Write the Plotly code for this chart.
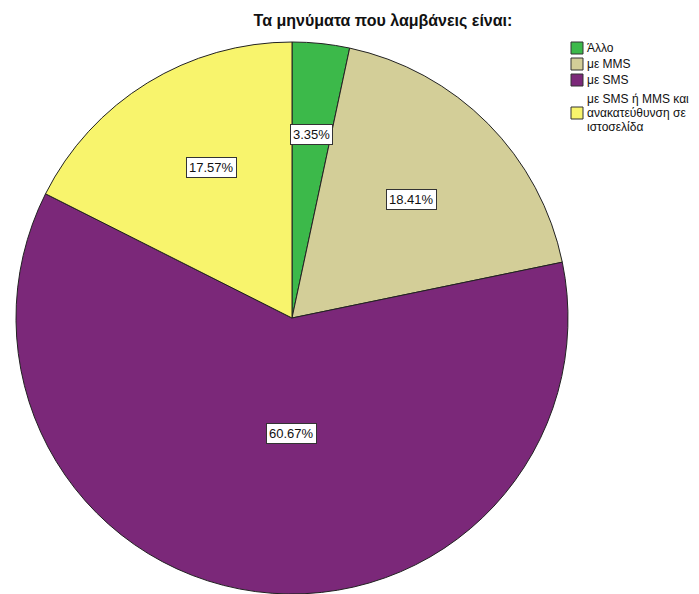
import math
import plotly.graph_objects as go

# Categories and their shares (%)
categories = ["Άλλο", "με MMS", "με SMS", "με SMS ή MMS και<br>ανακατεύθυνση σε<br>ιστοσελίδα"]
shares = [3.35, 18.41, 60.67, 17.57]
colors = ["#3CB94A", "#D3CE98", "#7B2879", "#F8F46C"]

W, H = 699, 594
R = 276  # pie radius in px
CX, CY = 292, 318  # pie centre in px (from top-left)
FONT = "Liberation Sans, Arial"

dom_x = [(CX - R) / W, (CX + R) / W]
dom_y = [1 - (CY + R) / H, 1 - (CY - R) / H]

fig = go.Figure(
    go.Pie(
        labels=categories,
        values=shares,
        sort=False,
        direction="clockwise",
        rotation=0,
        marker=dict(colors=colors, line=dict(color="#222222", width=1)),
        textinfo="none",
        hoverinfo="label+percent",
        domain=dict(x=dom_x, y=dom_y),
        showlegend=False,
    )
)

# Boxed percentage labels placed along each slice's mid-angle
label_radius = [0.67, 0.61, 0.42, 0.62]
label_nudge_deg = [0, 0, -7.5, 3.5]
total = sum(shares)
start = 0.0
annotations = []
for v, rf, nudge in zip(shares, label_radius, label_nudge_deg):
    mid = (start + v / 2) / total * 360 + nudge
    start += v
    px = CX + rf * R * math.sin(math.radians(mid))
    py = CY - rf * R * math.cos(math.radians(mid))
    annotations.append(
        dict(
            x=px / W, y=1 - py / H, xref="paper", yref="paper",
            text=f"{v:.2f}%", showarrow=False,
            font=dict(family=FONT, size=13, color="#111111"),
            bgcolor="white", bordercolor="#333333", borderwidth=1, borderpad=2,
            xanchor="center", yanchor="middle",
        )
    )

# Compact key on the right: swatch + (possibly multi-line) label per category
shapes = []
KEY_X = 571       # swatch left edge, px
KEY_Y = 48        # first row centre, px
ROW_GAP = 16      # distance between single-line rows, px
LINE_H = 14       # line height inside a multi-line label, px
SW = 12           # swatch size, px
y = KEY_Y
for i, (cat, col) in enumerate(zip(categories, colors)):
    lines = cat.split("<br>")
    n = len(lines)
    if i > 0 and n > 1:
        y += (n - 1) * LINE_H / 2 + 3
    shapes.append(
        dict(
            type="rect", xref="paper", yref="paper",
            x0=KEY_X / W, x1=(KEY_X + SW) / W,
            y0=1 - (y + SW / 2) / H, y1=1 - (y - SW / 2) / H,
            fillcolor=col, line=dict(color="#333333", width=1),
        )
    )
    for j, line in enumerate(lines):
        ly = y + (j - (n - 1) / 2) * LINE_H
        annotations.append(
            dict(
                x=(KEY_X + SW + 2) / W, y=1 - ly / H, xref="paper", yref="paper",
                text=line, showarrow=False,
                font=dict(family=FONT, size=12, color="#111111"),
                xanchor="left", yanchor="middle",
            )
        )
    y += ROW_GAP

fig.update_layout(
    width=W,
    height=H,
    margin=dict(l=0, r=0, t=0, b=0),
    paper_bgcolor="white",
    showlegend=False,
    title=dict(
        text="<b>Τα μηνύματα που λαμβάνεις είναι:</b>",
        x=383 / W, xanchor="center",
        y=1 - 20 / H, yanchor="middle",
        font=dict(family=FONT, size=16, color="#111111"),
    ),
    annotations=annotations,
    shapes=shapes,
)

fig.write_html("out.html")
